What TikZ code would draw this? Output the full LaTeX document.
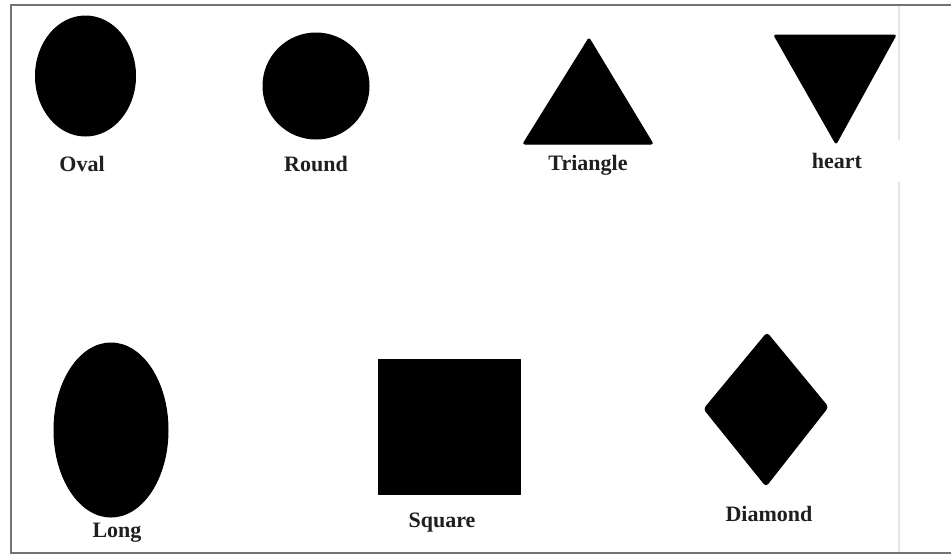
\documentclass[tikz,border=0pt]{standalone}
\usepackage{fontspec}
\setmainfont{Liberation Serif}
\begin{document}
\begin{tikzpicture}[x=1pt,y=-1pt,
  shapefill/.style={fill=black,draw=black,line width=1pt,line join=round},
  lbl/.style={font=\fontsize{22}{25}\selectfont\bfseries,text=black!88,inner sep=0pt},
  frame/.style={draw=black!55,line width=1.6pt}]
\useasboundingbox (0,0) rectangle (951,558);
\fill[white] (0,0) rectangle (951,558);
% frame
\draw[frame] (951,5) -- (11,5) -- (11,553) -- (951,553);
\draw[black!10,line width=1.2pt] (899,6) -- (899,140);
\draw[black!10,line width=1.2pt] (899,182) -- (899,552);
% shapes
\fill[shapefill] (85.5,76) ellipse [x radius=50,y radius=60];
\fill[shapefill] (316,86) ellipse [x radius=53,y radius=53];
\filldraw[shapefill,rounded corners=2pt] (589,38) -- (653,144) -- (523,144) -- cycle;
\filldraw[shapefill,rounded corners=2pt] (774,35) -- (896,35) -- (836,144) -- cycle;
\fill[shapefill] (111,430) ellipse [x radius=57,y radius=87];
\filldraw[shapefill] (378,359) rectangle (520,494);
\filldraw[shapefill,rounded corners=3pt] (767,333) -- (828,407) -- (766,486) -- (704,409) -- cycle;
% labels
\node[lbl] (oval) at (82,164) {Oval};
\node[lbl] (round) at (316,164) {Round};
\node[lbl] (triangle) at (588,165) {Triangle};
\node[lbl] (heart) at (837,161) {heart};
\node[lbl] (long) at (117,533) {Long};
\node[lbl] (square) at (442,523) {Square};
\node[lbl] (diamond) at (769,514) {Diamond};
\end{tikzpicture}
\end{document}
